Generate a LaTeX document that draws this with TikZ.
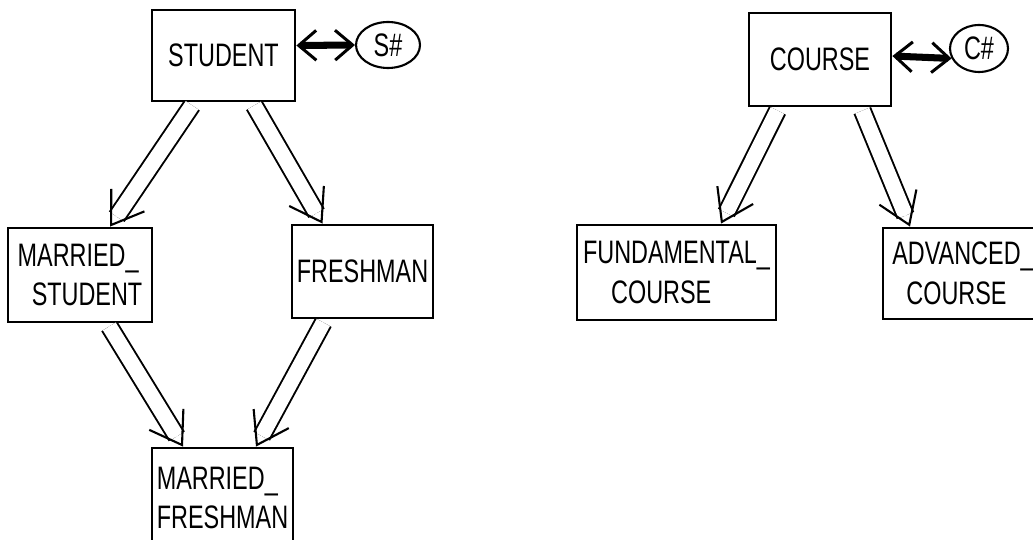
\documentclass[tikz,border=0pt]{standalone}
\usepackage{fontspec}
\setmainfont{Liberation Sans}[FakeStretch=0.72]
\usetikzlibrary{arrows.meta,calc,shapes.geometric}

\begin{document}
\begin{tikzpicture}[
  x=0.02cm, y=-0.02cm,
  font=\fontsize{18.5}{22.5}\selectfont,
  entity/.style={draw, line width=1.6pt, align=left, inner sep=0pt},
  attr/.style={draw, ellipse, line width=1.2pt, inner sep=0pt},
  isa/.style={preaction={-, draw=black, double, double distance=0.3cm, line width=1.1pt, shorten >=0.24cm},
    draw=white, line width=0.4pt, shorten <=2pt,
    -{Straight Barb[color=black, line width=1.2pt, length=0.6cm, width=0.8cm]}},
  keylink/.style={line width=4pt,
    {Straight Barb[line width=1.7pt, length=10pt, width=17pt]}-{Straight Barb[line width=1.7pt, length=10pt, width=17pt]}}
]
\clip (0,0) rectangle (1033,540);

% Student hierarchy
\node[entity, minimum width=2.86cm, minimum height=1.82cm] (stud) at (223.5,55.5) {STUDENT};
\node[attr, minimum width=1.28cm, minimum height=0.92cm] (sno) at (388,45) {S\#};
\node[entity, minimum width=2.88cm, minimum height=1.88cm] (mstud) at (80,275) {MARRIED\_\\\hspace*{8pt}STUDENT};
\node[entity, minimum width=2.82cm, minimum height=1.86cm] (fresh) at (362.5,271.5) {FRESHMAN};
\node[entity, minimum width=2.82cm, minimum height=2cm] (mfresh) at (222.5,498) {MARRIED\_\\FRESHMAN};

\draw[keylink] ($(stud.east)+(0,-10)$) -- (sno.west);
\draw[isa] ($(stud.south)+(-29.5,0)$) -- ($(mstud.north)+(30,0)$);
\draw[isa] ($(stud.south)+(29,0)$) -- ($(fresh.north)+(-40,0)$);
\draw[isa] ($(mstud.south)+(27.5,0)$) -- ($(mfresh.north)+(-39.5,0)$);
\draw[isa] ($(fresh.south)+(-37.5,0)$) -- ($(mfresh.north)+(33.5,0)$);

% Course hierarchy
\node[entity, minimum width=2.84cm, minimum height=1.86cm] (course) at (820,59.5) {COURSE};
\node[attr, minimum width=1.16cm, minimum height=0.94cm] (cno) at (979,48.5) {C\#};
\node[entity, minimum width=3.98cm, minimum height=1.9cm] (fund) at (676.5,272.5) {FUNDAMENTAL\_\\\hspace*{16pt}COURSE};
\node[entity, minimum width=3.2cm, minimum height=1.82cm] (adv) at (963,273.5) {ADVANCED\_\\\hspace*{8pt}COURSE};

\draw[keylink] ($(course.east)+(0,-3.5)$) -- (cno.200);
\draw[isa] ($(course.south)+(-41,0)$) -- ($(fund.north)+(44.5,0)$);
\draw[isa] ($(course.south)+(41,0)$) -- ($(adv.north)+(-53,0)$);
\end{tikzpicture}
\end{document}
